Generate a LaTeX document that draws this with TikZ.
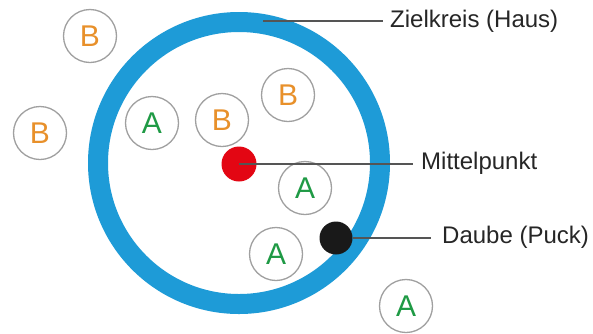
\documentclass[tikz,border=0pt]{standalone}
\usepackage{fontspec}
\setmainfont{Liberation Sans}
\definecolor{ringblue}{HTML}{1E9BD7}
\definecolor{stoneB}{HTML}{E8902A}
\definecolor{stoneA}{HTML}{1F9A45}
\definecolor{dotred}{HTML}{E30613}
\definecolor{edgegray}{HTML}{A0A0A0}
\definecolor{linegray}{HTML}{555555}
\begin{document}
\begin{tikzpicture}[x=1pt,y=-1pt,
  stone/.style={circle,draw=edgegray,line width=1.3pt,fill=white,minimum size=53pt,inner sep=0pt,font=\fontsize{30}{32}\selectfont},
  stoneb/.style={stone,text=stoneB},
  stonea/.style={stone,text=stoneA},
  dot/.style={circle,minimum size=#1,inner sep=0pt},
  lbl/.style={anchor=west,font=\fontsize{24}{27}\selectfont,text=black!85,inner sep=0pt},
  leader/.style={draw=linegray,line width=1.2pt}]
\useasboundingbox (0,0) rectangle (593,333);
\fill[white] (0,0) rectangle (593,333);
% target ring
\node[circle,draw=ringblue,line width=20pt,minimum size=282pt,inner sep=0pt] (ring) at (239,163) {};
\coordinate (ringtop) at (263,21);
% stones
\node[stoneb] (b1) at (90,36) {B};
\node[stoneb] (b2) at (40,133) {B};
\node[stonea] (a1) at (152,123) {A};
\node[stoneb] (b3) at (222,120) {B};
\node[stoneb] (b4) at (288,95) {B};
\node[stonea] (a2) at (305,188) {A};
\node[stonea] (a3) at (276,254) {A};
\node[stonea] (a4) at (406,306) {A};
% labels
\node[lbl] (tz) at (390,21) {Zielkreis (Haus)};
\node[lbl] (tm) at (421,163) {Mittelpunkt};
\node[lbl] (td) at (442,237) {Daube (Puck)};
% dots
\node[dot=35pt,fill=dotred] (center) at (239,164) {};
\node[dot=33pt,fill=black!90] (puck) at (336,238) {};
% leaders
\draw[leader] (ringtop) -- ([xshift=-7pt]ringtop -| tz.west);
\draw[leader] (center.center) -- ([xshift=-8pt]center.center -| tm.west);
\draw[leader] (puck.east) -- ([xshift=-11pt]puck.east -| td.west);
\end{tikzpicture}
\end{document}
